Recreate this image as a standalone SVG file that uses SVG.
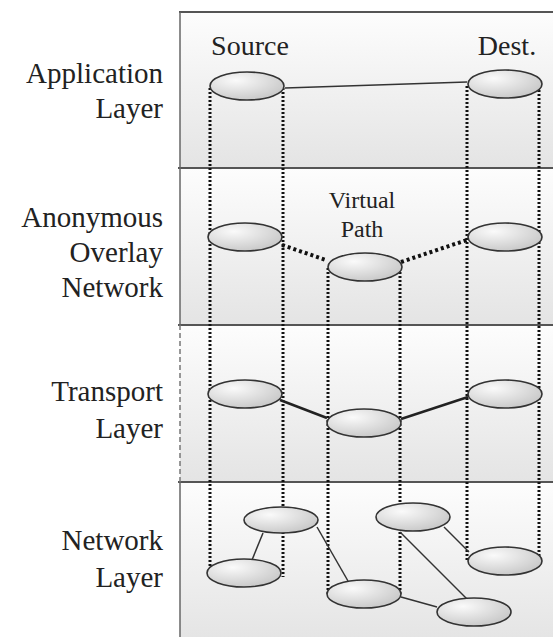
<svg xmlns="http://www.w3.org/2000/svg" width="553" height="637" viewBox="0 0 553 637">
<defs>
<radialGradient id="eg" cx="0.35" cy="0.3" r="0.8">
<stop offset="0" stop-color="#fafafa"/>
<stop offset="1" stop-color="#c4c4c4"/>
</radialGradient>
<linearGradient id="bg" x1="0" y1="0" x2="0" y2="1">
<stop offset="0" stop-color="#fdfdfd"/>
<stop offset="1" stop-color="#e4e4e4"/>
</linearGradient>
</defs>
<rect width="553" height="637" fill="#fff"/>
<g id="bands">
<rect x="180" y="12" width="380" height="156" fill="url(#bg)"/>
<rect x="180" y="168" width="380" height="157" fill="url(#bg)"/>
<rect x="180" y="325" width="380" height="157" fill="url(#bg)"/>
<rect x="180" y="482" width="380" height="160" fill="url(#bg)"/>
<g stroke="#555" stroke-width="2">
<line x1="179" y1="12" x2="560" y2="12"/>
<line x1="178" y1="168" x2="560" y2="168"/>
<line x1="178" y1="325" x2="560" y2="325"/>
<line x1="178" y1="482" x2="560" y2="482"/>
</g>
<line x1="180" y1="12" x2="180" y2="325" stroke="#666" stroke-width="1.5"/>
<line x1="180" y1="325" x2="180" y2="482" stroke="#777" stroke-width="1.5" stroke-dasharray="5 3"/>
<line x1="180" y1="482" x2="180" y2="637" stroke="#666" stroke-width="1.5"/>
</g>
<text x="163" y="83" font-family="Liberation Serif" font-size="29" text-anchor="end" fill="#222">Application</text>
<text x="163" y="118" font-family="Liberation Serif" font-size="29" text-anchor="end" fill="#222">Layer</text>
<text x="163" y="227" font-family="Liberation Serif" font-size="29" text-anchor="end" fill="#222">Anonymous</text>
<text x="163" y="262" font-family="Liberation Serif" font-size="29" text-anchor="end" fill="#222">Overlay</text>
<text x="163" y="297" font-family="Liberation Serif" font-size="29" text-anchor="end" fill="#222">Network</text>
<text x="163" y="401" font-family="Liberation Serif" font-size="29" text-anchor="end" fill="#222">Transport</text>
<text x="163" y="438" font-family="Liberation Serif" font-size="29" text-anchor="end" fill="#222">Layer</text>
<text x="163" y="550" font-family="Liberation Serif" font-size="29" text-anchor="end" fill="#222">Network</text>
<text x="163" y="587" font-family="Liberation Serif" font-size="29" text-anchor="end" fill="#222">Layer</text>
<text x="250" y="55" font-family="Liberation Serif" font-size="28" text-anchor="middle" fill="#222">Source</text>
<text x="507" y="55" font-family="Liberation Serif" font-size="28" text-anchor="middle" fill="#222">Dest.</text>
<text x="362" y="208" font-family="Liberation Serif" font-size="24" text-anchor="middle" fill="#222">Virtual</text>
<text x="362" y="237" font-family="Liberation Serif" font-size="24" text-anchor="middle" fill="#222">Path</text>
<g id="connectors" fill="none">
<g stroke="#111" stroke-width="3" stroke-dasharray="2 2">
<line x1="210" y1="88" x2="210" y2="568"/>
<line x1="283" y1="88" x2="283" y2="577"/>
<line x1="328" y1="268" x2="328" y2="594"/>
<line x1="400" y1="268" x2="400" y2="596"/>
<line x1="467" y1="86" x2="467" y2="561"/>
<line x1="539" y1="86" x2="539" y2="561"/>
</g>
<g stroke="#111" stroke-width="4" stroke-dasharray="3 3">
<line x1="282" y1="245" x2="326" y2="260"/>
<line x1="401" y1="262" x2="467" y2="240"/>
</g>
<g stroke="#222" stroke-width="2.5">
<line x1="280" y1="400" x2="327" y2="418"/>
<line x1="401" y1="419" x2="468" y2="397"/>
</g>
<g stroke="#333" stroke-width="1.5">
<line x1="285" y1="88" x2="467" y2="82"/>
<line x1="263" y1="533" x2="252" y2="560"/>
<line x1="317" y1="527" x2="348" y2="581"/>
<line x1="401" y1="597" x2="437" y2="607"/>
<line x1="400" y1="532" x2="467" y2="599"/>
<line x1="444" y1="527" x2="469" y2="552"/>
</g>
</g>
<g fill="url(#eg)" stroke="#333" stroke-width="1.6">
<g id="app-source"><ellipse cx="247" cy="86" rx="37" ry="14"/></g>
<g id="app-dest"><ellipse cx="505" cy="84" rx="37" ry="14"/></g>
<g id="ov-source"><ellipse cx="245" cy="237" rx="37" ry="14"/></g>
<g id="ov-mid"><ellipse cx="365" cy="267" rx="37" ry="14"/></g>
<g id="ov-dest"><ellipse cx="505" cy="237" rx="37" ry="14"/></g>
<g id="tr-source"><ellipse cx="245" cy="394" rx="37" ry="14"/></g>
<g id="tr-mid"><ellipse cx="364" cy="423" rx="37" ry="14"/></g>
<g id="tr-dest"><ellipse cx="505" cy="394" rx="37" ry="14"/></g>
<g id="net-a"><ellipse cx="281" cy="520" rx="37" ry="13"/></g>
<g id="net-b"><ellipse cx="244" cy="573" rx="37" ry="14"/></g>
<g id="net-c"><ellipse cx="364" cy="594" rx="37" ry="14"/></g>
<g id="net-d"><ellipse cx="413" cy="517" rx="37" ry="14"/></g>
<g id="net-e"><ellipse cx="505" cy="561" rx="37" ry="14"/></g>
<g id="net-f"><ellipse cx="474" cy="612" rx="37" ry="14"/></g>
</g>
</svg>
